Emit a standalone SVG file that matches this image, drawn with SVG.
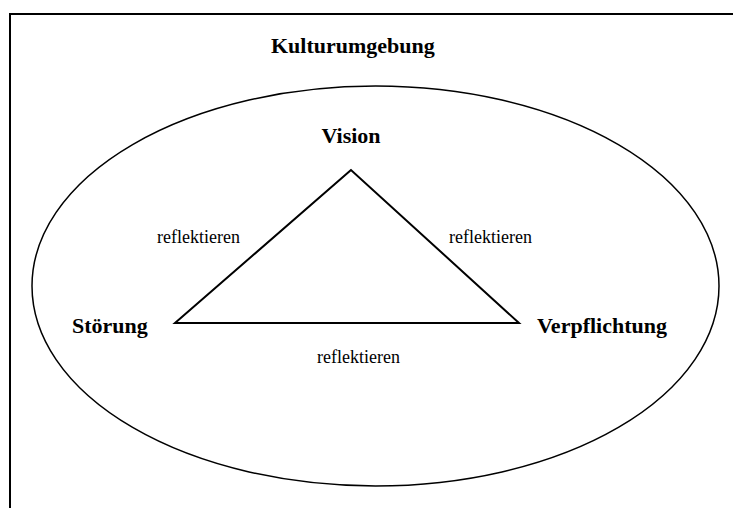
<svg xmlns="http://www.w3.org/2000/svg" width="733" height="508" viewBox="0 0 733 508">
  <style>
    .title { font-family: "Liberation Serif", "Times New Roman", serif; font-size: 22px; font-weight: bold; fill: #000; }
    .label { font-family: "Liberation Serif", "Times New Roman", serif; font-size: 18px; fill: #000; }
    .line { fill: none; stroke: #000; }
  </style>
  <rect width="733" height="508" fill="#fff"/>
  <!-- frame: top and left edges -->
  <path class="line" d="M10,508 V14 H733" stroke-width="2"/>

  <g id="kulturumgebung">
    <text class="title" x="271" y="53">Kulturumgebung</text>
    <ellipse class="line" cx="375.5" cy="286" rx="343.5" ry="200" stroke-width="1.5"/>
  </g>

  <g id="vision">
    <text class="title" x="351" y="143" text-anchor="middle">Vision</text>
  </g>
  <g id="stoerung">
    <text class="title" x="72" y="333">Störung</text>
  </g>
  <g id="verpflichtung">
    <text class="title" x="537" y="333">Verpflichtung</text>
  </g>

  <g id="connectors">
    <path class="line" d="M351,170 L175,323 H519 Z" stroke-width="2" stroke-linejoin="miter"/>
    <text class="label" x="157" y="243">reflektieren</text>
    <text class="label" x="449" y="243">reflektieren</text>
    <text class="label" x="317" y="363">reflektieren</text>
  </g>
</svg>
